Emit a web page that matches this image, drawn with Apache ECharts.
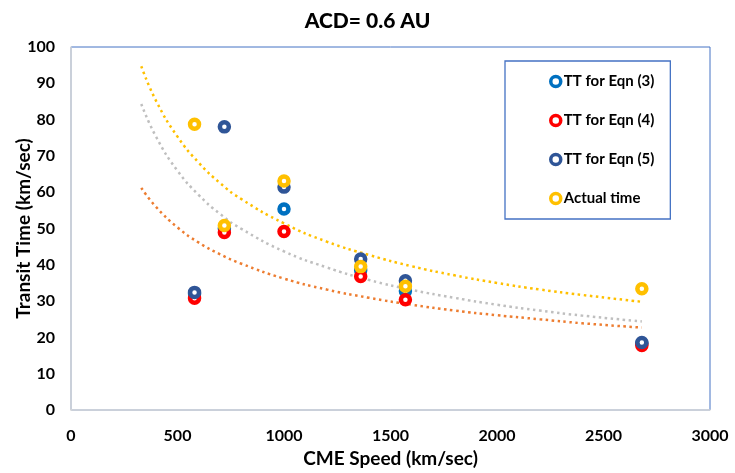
<!DOCTYPE html>
<html>
<head>
<meta charset="utf-8">
<script src="https://cdn.jsdelivr.net/npm/echarts@6/dist/echarts.min.js"></script>
<style>html,body{margin:0;padding:0;background:#fff}#c{width:735px;height:473px}</style>
</head>
<body>
<div id="c"></div>
<script>
// CME speeds (km/sec)
const speeds = [580, 720, 1000, 1360, 1570, 2680];
// Transit times
const ttEqn3 = [32, 50, 55.4, 38.5, 32.8, 18.3];
const ttEqn4 = [30.8, 48.9, 49.2, 36.8, 30.4, 17.8];
const ttEqn5 = [32.4, 78.0, 61.4, 41.6, 35.6, 18.6];
const actualTime = [78.7, 50.8, 63.1, 39.5, 34.1, 33.4];

// Trendline points
const trendX = [330, 400, 500, 600, 700, 800, 1000, 1200, 1400, 1600, 1800, 2000, 2200, 2400, 2680];
const trendActual = [94.7, 85.1, 75.3, 68.1, 62.5, 58.1, 51.4, 46.4, 42.7, 39.6, 37.1, 35.0, 33.2, 31.7, 29.8];
const trendGray = [84.3, 75.2, 65.9, 59.2, 54.0, 49.9, 43.7, 39.3, 35.8, 33.1, 30.9, 29.0, 27.4, 26.0, 24.4];
const trendOrange = [61.2, 55.9, 50.3, 46.1, 42.9, 40.3, 36.2, 33.2, 30.9, 29.0, 27.4, 26.1, 25.0, 23.9, 22.7];

const seriesNames = ['TT for Eqn (3)', 'TT for Eqn (4)', 'TT for Eqn (5)', 'Actual time'];
const xTicks = [0, 500, 1000, 1500, 2000, 2500, 3000];

const FONT = 'Lato';
const pair = (xs, ys) => xs.map((x, i) => [x, ys[i]]);

function scatter(name, vals, color) {
  return {
    name: name, type: 'scatter', data: pair(speeds, vals),
    symbol: 'circle', symbolSize: 9, z: 5,
    itemStyle: { color: '#ffffff', borderColor: color, borderWidth: 4.5, opacity: 1 }
  };
}
function trend(vals, color) {
  return {
    type: 'line', data: pair(trendX, vals), smooth: true, showSymbol: false, silent: true, z: 3,
    lineStyle: { color: color, width: 2.5, type: [2.5, 3.5] }
  };
}

const chart = echarts.init(document.getElementById('c'));
chart.setOption({
  animation: false,
  textStyle: { fontFamily: FONT },
  title: {
    text: 'ACD= 0.6 AU', left: 'center', top: 6,
    textStyle: { fontFamily: FONT, fontWeight: 900, fontSize: 21, color: '#000' }
  },
  grid: { left: 71, top: 47, right: 25, bottom: 63, show: true, borderColor: '#4472C4', borderWidth: 1,
    outerBoundsMode: 'none', containLabel: false },
  legend: {
    data: seriesNames, orient: 'vertical', left: 505, top: 61,
    padding: [13, 16, 13, 44], itemGap: 24, itemWidth: 10, itemHeight: 10,
    borderColor: '#4472C4', borderWidth: 1.3,
    itemStyle: { borderWidth: 3.5 },
    textStyle: { fontFamily: FONT, fontWeight: 'bold', fontSize: 15, color: '#000', padding: [0, 0, 0, -2] }
  },
  xAxis: {
    type: 'value', min: 0, max: 3000, interval: 500,
    name: 'CME Speed (km/sec)', nameLocation: 'middle', nameGap: 39, nameMoveOverlap: false,
    nameTextStyle: { fontFamily: FONT, fontWeight: 'bold', fontSize: 19, color: '#000' },
    axisLine: { lineStyle: { color: '#D9D9D9', width: 1.5 } },
    axisTick: { show: false }, splitLine: { show: false },
    axisLabel: { margin: 18, fontFamily: FONT, fontWeight: 'bold', fontSize: 16, color: '#000',
      formatter: v => xTicks.includes(v) ? String(v) : '' }
  },
  yAxis: {
    type: 'value', min: 0, max: 100, interval: 10,
    name: 'Transit Time (km/sec)', nameLocation: 'middle', nameGap: 38, nameMoveOverlap: false,
    nameTextStyle: { fontFamily: FONT, fontWeight: 'bold', fontSize: 19, color: '#000' },
    axisLine: { show: true, lineStyle: { color: '#D9D9D9', width: 1.5 } },
    axisTick: { show: false }, splitLine: { show: false },
    axisLabel: { margin: 16, fontFamily: FONT, fontWeight: 'bold', fontSize: 16, color: '#000' }
  },
  series: [
    trend(trendOrange, '#ED7D31'),
    trend(trendGray, '#BFBFBF'),
    trend(trendActual, '#FFC000'),
    scatter(seriesNames[0], ttEqn3, '#0070C0'),
    scatter(seriesNames[1], ttEqn4, '#FF0000'),
    scatter(seriesNames[2], ttEqn5, '#2F5597'),
    scatter(seriesNames[3], actualTime, '#FFC000')
  ]
});
</script>
</body>
</html>
